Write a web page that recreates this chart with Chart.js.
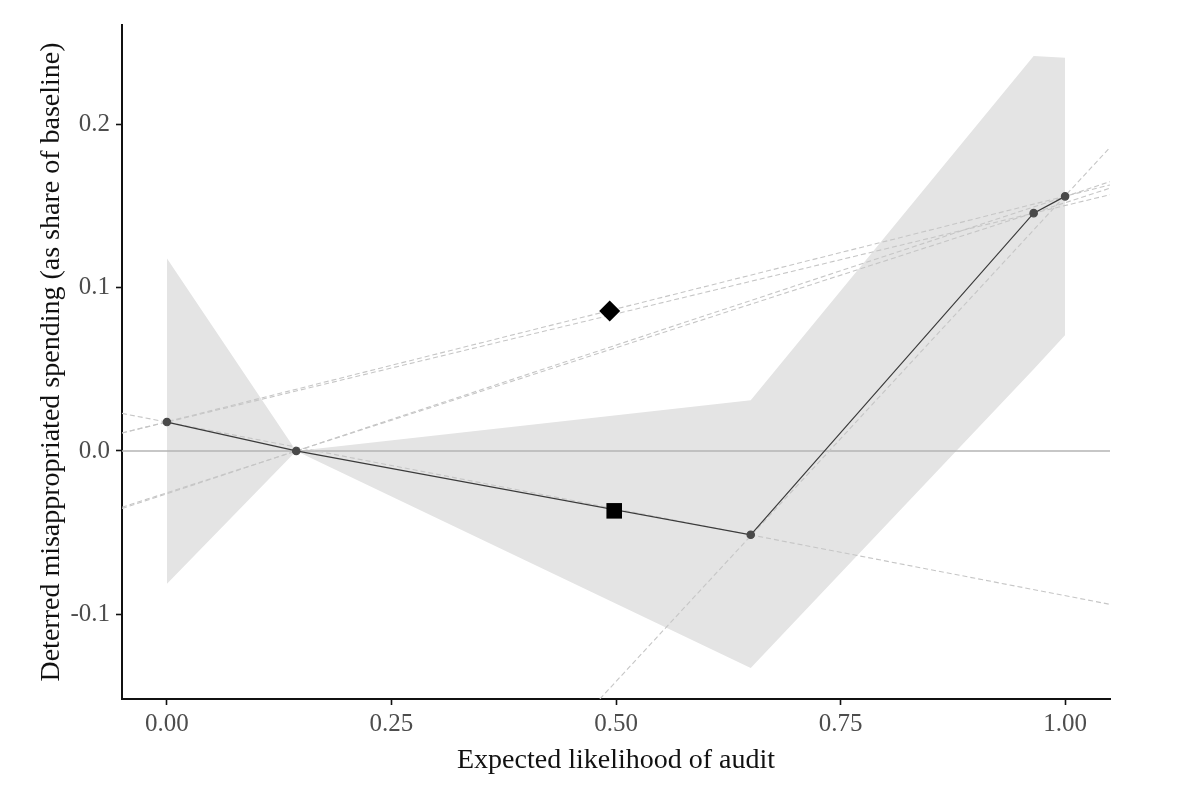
<!DOCTYPE html>
<html>
<head>
<meta charset="utf-8">
<script src="https://cdn.jsdelivr.net/npm/chart.js@4"></script>
<style>
  html, body { margin: 0; padding: 0; background: #fff; }
  #wrap { width: 1200px; height: 805px; position: relative; }
</style>
</head>
<body>
<div id="wrap"><canvas id="chart"></canvas></div>
<script>
// estimated points (expected likelihood of audit -> deterred spending)
const auditX = [0, 0.144, 0.65, 0.965, 1.0];
const deterredY = [0.0177, 0, -0.0514, 0.1457, 0.156];

// confidence ribbon
const bandUpper = [0.118, 0, 0.031, 0.242, 0.241];
const bandLower = [-0.0815, 0, -0.133, 0.050, 0.071];

// dashed reference lines: start (x0,y0) and end (x1,y1)
const dashX0 = [-0.05, -0.05, -0.05, -0.05, -0.05, 0.482];
const dashY0 = [0.023, 0.011, 0.011, -0.0345, -0.0353, -0.152];
const dashX1 = [1.05, 1.05, 1.05, 1.05, 1.05, 1.05];
const dashY1 = [-0.094, 0.163, 0.157, 0.161, 0.165, 0.186];

// single markers
const squarePt = [0.498, -0.0367];
const diamondPt = [0.493, 0.0857];

const xRange = [-0.05, 1.05];
const yRange = [-0.152, 0.261];
const xTicks = [0, 0.25, 0.5, 0.75, 1];
const yTicks = [-0.1, 0, 0.1, 0.2];

const serif = "'Liberation Serif', 'DejaVu Serif', serif";

const toPts = (xs, ys) => xs.map((x, i) => ({ x: x, y: ys[i] }));

const datasets = [];

// ribbon (upper fills down to lower)
datasets.push({
    data: toPts(auditX, bandUpper),
    borderWidth: 0,
    pointRadius: 0,
    backgroundColor: '#e4e4e4',
    fill: '+1',
    order: 20
});
datasets.push({
    data: toPts(auditX, bandLower),
    borderWidth: 0,
    pointRadius: 0,
    fill: false,
    order: 21
});

// zero line
datasets.push({
    data: toPts(xRange, [0, 0]),
    borderColor: '#b5b5b5',
    borderWidth: 1.4,
    pointRadius: 0,
    fill: false,
    order: 15
});

// dashed lines
dashX0.forEach((x0, i) => {
    datasets.push({
        data: [{ x: x0, y: dashY0[i] }, { x: dashX1[i], y: dashY1[i] }],
        borderColor: '#c6c6c6',
        borderWidth: 1.1,
        borderDash: [5, 3],
        pointRadius: 0,
        fill: false,
        order: 10
    });
});

// main line with points
datasets.push({
    data: toPts(auditX, deterredY),
    borderColor: '#3a3a3a',
    borderWidth: 1.2,
    pointRadius: 3.7,
    pointBackgroundColor: '#4a4a4a',
    pointBorderColor: '#4a4a4a',
    fill: false,
    order: 5
});

// square + diamond markers
datasets.push({
    data: [{ x: squarePt[0], y: squarePt[1] }],
    showLine: false,
    pointStyle: 'rect',
    pointRadius: 11,
    pointBackgroundColor: '#000',
    pointBorderColor: '#000',
    pointBorderWidth: 0,
    order: 1
});
datasets.push({
    data: [{ x: diamondPt[0], y: diamondPt[1] }],
    showLine: false,
    pointStyle: 'rectRot',
    pointRadius: 10.5,
    pointBackgroundColor: '#000',
    pointBorderColor: '#000',
    pointBorderWidth: 0,
    order: 1
});

new Chart(document.getElementById('chart'), {
    type: 'line',
    data: { datasets: datasets },
    options: {
        responsive: true,
        maintainAspectRatio: false,
        animation: false,
        layout: { padding: { left: 0, top: 25, right: 90, bottom: 0 } },
        plugins: {
            legend: { display: false },
            tooltip: { enabled: false }
        },
        elements: { line: { tension: 0 } },
        scales: {
            x: {
                type: 'linear',
                min: xRange[0],
                max: xRange[1],
                afterBuildTicks: (scale) => { scale.ticks = xTicks.map(v => ({ value: v })); },
                afterFit: (scale) => { scale.height = 106; },
                ticks: {
                    callback: (v) => v.toFixed(2),
                    color: '#4d4d4d',
                    font: { family: serif, size: 25 },
                    padding: 4,
                    maxRotation: 0
                },
                grid: { drawOnChartArea: false, drawTicks: true, tickLength: 6, tickColor: '#111', tickWidth: 1.6 },
                border: { display: true, color: '#111', width: 2 },
                title: {
                    display: true,
                    text: 'Expected likelihood of audit',
                    color: '#111',
                    font: { family: serif, size: 28 },
                    padding: { top: 28, bottom: 28 }
                }
            },
            y: {
                type: 'linear',
                min: yRange[0],
                max: yRange[1],
                afterBuildTicks: (scale) => { scale.ticks = yTicks.map(v => ({ value: v })); },
                afterFit: (scale) => { scale.width = 122; },
                ticks: {
                    callback: (v) => v.toFixed(1),
                    color: '#4d4d4d',
                    font: { family: serif, size: 25 },
                    padding: 6
                },
                grid: { drawOnChartArea: false, drawTicks: true, tickLength: 6, tickColor: '#111', tickWidth: 1.6 },
                border: { display: true, color: '#111', width: 2 },
                title: {
                    display: true,
                    text: 'Deterred misappropriated spending (as share of baseline)',
                    color: '#111',
                    font: { family: serif, size: 28 },
                    padding: { top: 35, bottom: 35 }
                }
            }
        }
    }
});
</script>
</body>
</html>
